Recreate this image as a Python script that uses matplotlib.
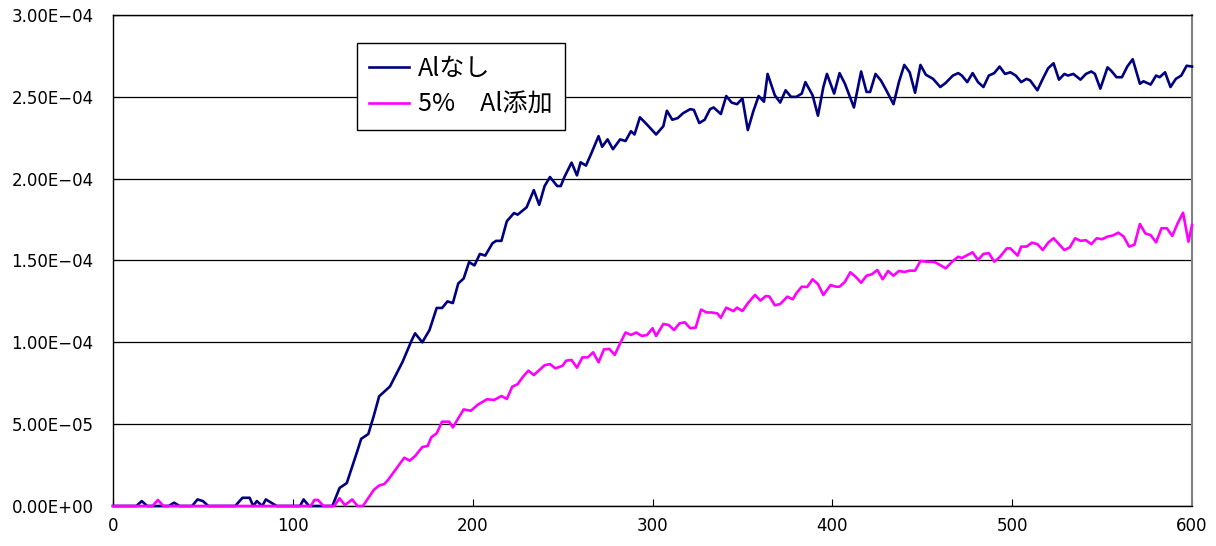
import matplotlib
matplotlib.use("Agg")
import matplotlib.pyplot as plt
from matplotlib.ticker import FuncFormatter, MultipleLocator

plt.rcParams['font.family'] = ['Noto Sans CJK JP', 'DejaVu Sans']

# --- data (values in units of 1E-05) -----------------------------------
t_plain = [0, 13, 16, 19, 31, 34, 37, 44, 47, 50, 53, 68, 72, 76, 78, 80, 83, 85, 88, 91,
           104, 106, 109, 122, 126, 130, 136, 138, 142, 145, 148, 154, 161, 166, 168, 172,
           176, 180, 183, 186, 189, 192, 195, 198, 201, 204, 207, 211, 213, 216, 219, 223,
           225, 230, 234, 237, 240, 243, 247, 249, 251, 255, 258, 260, 263, 266, 270, 272,
           275, 278, 282, 285, 288, 290, 293, 297, 302, 306, 308, 311, 314, 317, 321, 323,
           326, 329, 332, 334, 338, 341, 344, 347, 350, 353, 356, 359, 362, 364, 368, 371,
           374, 377, 380, 383, 385, 389, 392, 395, 397, 401, 404, 407, 412, 416, 419, 421,
           424, 427, 430, 434, 437, 440, 443, 446, 449, 452, 456, 460, 463, 467, 470, 472,
           475, 478, 481, 484, 487, 490, 493, 496, 499, 502, 505, 508, 510, 514, 517, 520,
           523, 526, 529, 531, 534, 538, 541, 544, 546, 549, 553, 555, 558, 561, 564, 567,
           571, 573, 577, 580, 582, 585, 588, 591, 594, 597, 600]
v_plain = [0, 0, 0.3, 0, 0, 0.2, 0, 0, 0.4, 0.3, 0, 0, 0.5, 0.5, 0, 0.3, 0, 0.4, 0.2, 0,
           0, 0.4, 0, 0, 1.1, 1.4, 3.4, 4.1, 4.4, 5.5, 6.7, 7.3, 8.8, 10.1, 10.55, 10.0,
           10.75, 12.1, 12.1, 12.5, 12.4, 13.6, 13.9, 14.9, 14.7, 15.4, 15.3, 16.05, 16.2, 16.2, 17.4, 17.9,
           17.8, 18.25, 19.3, 18.4, 19.55, 20.1, 19.55, 19.55, 20.1, 20.98, 20.2, 21.0, 20.8, 21.55, 22.6, 21.95,
           22.4, 21.8, 22.4, 22.3, 22.9, 22.7, 23.75, 23.3, 22.7, 23.2, 24.15, 23.6, 23.7, 24.0, 24.25, 24.2,
           23.4, 23.6, 24.25, 24.35, 23.95, 25.05, 24.65, 24.55, 24.9, 22.97, 24.1, 25.05, 24.7, 26.4, 25.1, 24.65,
           25.4, 25.0, 25.0, 25.2, 25.9, 25.1, 23.85, 25.6, 26.4, 25.2, 26.45, 25.8, 24.35, 26.55, 25.3, 25.3,
           26.4, 26.0, 25.4, 24.55, 25.9, 26.95, 26.5, 25.25, 26.95, 26.35, 26.1, 25.6, 25.85, 26.3, 26.45, 26.3,
           25.9, 26.45, 25.9, 25.6, 26.3, 26.45, 26.85, 26.4, 26.5, 26.3, 25.9, 26.1, 26.0, 25.4, 26.1, 26.75,
           27.05, 26.05, 26.4, 26.3, 26.4, 26.05, 26.4, 26.55, 26.4, 25.5, 26.8, 26.6, 26.2, 26.2, 26.85, 27.3,
           25.8, 25.95, 25.75, 26.3, 26.2, 26.5, 25.6, 26.1, 26.3, 26.9, 26.85]

t_al5 = [0, 22, 25, 28, 110, 112, 114, 117, 123, 126, 129, 133, 136, 139, 145, 148, 151, 153,
         157, 162, 165, 168, 172, 175, 177, 180, 183, 187, 189, 192, 195, 199, 203, 208, 212,
         216, 219, 222, 225, 228, 231, 234, 237, 240, 243, 246, 250, 252, 255, 258, 261, 264,
         267, 270, 273, 276, 279, 282, 285, 288, 291, 294, 297, 300, 302, 306, 309, 312, 315,
         318, 321, 324, 327, 330, 333, 336, 338, 341, 345, 347, 350, 353, 357, 360, 363, 365,
         368, 371, 375, 378, 380, 383, 386, 389, 392, 395, 399, 402, 404, 407, 410, 413, 416,
         419, 422, 425, 428, 431, 434, 437, 440, 443, 446, 449, 452, 457, 460, 463, 467, 470,
         472, 475, 478, 481, 484, 487, 490, 493, 497, 499, 503, 505, 508, 511, 514, 517, 520,
         523, 526, 529, 532, 535, 538, 541, 544, 547, 550, 553, 556, 559, 562, 565, 568, 571,
         574, 577, 580, 583, 586, 589, 592, 595, 598, 600]
v_al5 = [0, 0, 0.37, 0, 0, 0.37, 0.37, 0, 0, 0.47, 0.05, 0.4, 0, 0, 0.98, 1.25, 1.35, 1.6,
         2.2, 2.95, 2.77, 3.05, 3.6, 3.67, 4.2, 4.44, 5.15, 5.15, 4.8, 5.36, 5.9, 5.82, 6.2, 6.52, 6.48,
         6.72, 6.54, 7.29, 7.44, 7.9, 8.27, 8.0, 8.3, 8.6, 8.67, 8.41, 8.57, 8.88, 8.92, 8.45, 9.08, 9.08,
         9.39, 8.78, 9.57, 9.6, 9.23, 9.94, 10.6, 10.45, 10.6, 10.39, 10.45, 10.86, 10.39, 11.12, 11.06, 10.75, 11.16,
         11.22, 10.86, 10.9, 12.0, 11.83, 11.82, 11.77, 11.5, 12.12, 11.91, 12.12, 11.91, 12.39, 12.9, 12.55, 12.83, 12.8,
         12.26, 12.34, 12.79, 12.63, 13.0, 13.4, 13.38, 13.85, 13.56, 12.89, 13.5, 13.4, 13.4, 13.7, 14.28, 14.0, 13.64,
         14.07, 14.16, 14.42, 13.85, 14.36, 14.07, 14.36, 14.3, 14.38, 14.38, 14.97, 14.93, 14.9, 14.72, 14.52, 14.97, 15.23,
         15.15, 15.33, 15.5, 15.03, 15.4, 15.45, 14.93, 15.2, 15.74, 15.74, 15.3, 15.85, 15.85, 16.09, 16.0, 15.64, 16.09,
         16.36, 16.0, 15.64, 15.8, 16.36, 16.2, 16.24, 16.0, 16.36, 16.3, 16.46, 16.53, 16.7, 16.46, 15.85, 15.97, 17.23,
         16.66, 16.55, 16.11, 16.97, 16.97, 16.5, 17.27, 17.92, 16.15, 17.17]

labels = ["Alなし", "5%\u3000Al添加"]
colors = ["#000080", "#FF00FF"]
scale = 1e-5

# --- plot ---------------------------------------------------------------
fig = plt.figure(figsize=(12.16, 5.46), dpi=100)
ax = fig.add_axes([0.0929, 0.0733, 0.8874, 0.8992])

ax.plot(t_plain, [v * scale for v in v_plain], color=colors[0], lw=1.9,
        label=labels[0], clip_on=False, zorder=3)
ax.plot(t_al5, [v * scale for v in v_al5], color=colors[1], lw=1.9,
        label=labels[1], clip_on=False, zorder=3)

ax.set_xlim(0, 600)
ax.set_ylim(0, 3e-4)
ax.xaxis.set_major_locator(MultipleLocator(100))
ax.yaxis.set_major_locator(MultipleLocator(5e-5))
ax.yaxis.set_major_formatter(FuncFormatter(lambda y, _: f"{y:.2E}".replace("-", "\u2212")))

ax.grid(axis="y", color="black", lw=0.9)
ax.set_axisbelow(True)
ax.tick_params(direction="in", length=5, width=0.8, labelsize=12, colors="black")
ax.tick_params(axis="y", pad=14)
ax.tick_params(axis="x", pad=8)
for lab in ax.get_xticklabels() + ax.get_yticklabels():
    lab.set_family("DejaVu Sans")

for s in ["left", "bottom", "top"]:
    ax.spines[s].set_color("black")
    ax.spines[s].set_linewidth(1.0)
ax.spines["right"].set_color("#808080")
ax.spines["right"].set_linewidth(1.5)

leg = ax.legend(loc="upper left", bbox_to_anchor=(0.226, 0.943), borderaxespad=0,
                fontsize=18, frameon=True, fancybox=False, handlelength=1.6,
                handletextpad=0.35, borderpad=0.5, labelspacing=0.4)
leg.get_frame().set_edgecolor("black")
leg.get_frame().set_linewidth(1.0)
leg.get_frame().set_alpha(1.0)

fig.savefig("out.png", dpi=100)
